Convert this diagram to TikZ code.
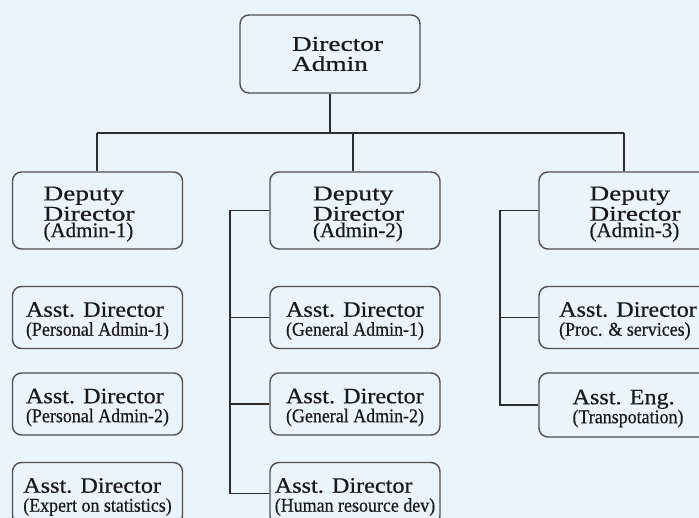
\documentclass[tikz,border=0pt]{standalone}
\usepackage{fontspec}
\setmainfont{Liberation Serif}[FakeBold=0.5]
\usepackage{graphicx}

\definecolor{paper}{RGB}{235,244,250}
\definecolor{frame}{RGB}{80,80,80}
\definecolor{wirec}{RGB}{45,45,45}
\definecolor{ink}{RGB}{25,25,25}

% baselines always follow \baselineskip
\lineskiplimit=-50pt

% horizontal padding that survives line ends
\newcommand\padw[1]{\rule{#1}{0pt}}
% title lines of the upper boxes (wide letters)
\newcommand\wideline[1]{\scalebox{1.3}[1]{#1}}
% two-line label of an assistant box
\newcommand\asstlabel[2]{\rule{0pt}{21.6pt}{\fontsize{22}{19}\selectfont\scalebox{1.1}[1]{#1}}\\{\fontsize{19.5}{19}\selectfont\scalebox{0.92}[1]{#2}}}
% three-line label of a deputy box; #2 left padding, #3 right padding
\newcommand\deplabel[3]{\rule{0pt}{21pt}\padw{#2}\wideline{Deputy}\\[3.8pt]\padw{#2}\wideline{Director}\padw{#3}\\\padw{#2}#1}

\tikzset{
  box/.style={draw=frame, line width=1.4pt, rounded corners=9pt, fill=paper,
    inner sep=0pt, align=left, text=ink},
  headbox/.style={box, minimum width=180pt, minimum height=78pt,
    font=\fontsize{21}{20}\selectfont},
  depbox/.style={box, minimum width=170pt, minimum height=77pt,
    font=\fontsize{21}{16.5}\selectfont},
  asstbox/.style={box, minimum width=170pt, minimum height=62pt,
    font=\fontsize{20}{19}\selectfont},
  wire/.style={draw=wirec, line width=1.2pt},
}

\begin{document}
\begin{tikzpicture}[x=1pt, y=-1pt]
  \fill[paper] (0,0) rectangle (699,518);
  \useasboundingbox (0,0) rectangle (699,518);

  % head of the department
  \node[headbox] (top) at (330,54) {\padw{15pt}\wideline{Director}\\\padw{15pt}\wideline{Admin}};

  % deputy directors
  \node[depbox] (dep1) at (97.5,210.5) {\deplabel{(Admin-1)}{0pt}{17pt}};
  \node[depbox] (dep2) at (355,210.5) {\deplabel{(Admin-2)}{7pt}{0pt}};
  \node[depbox, minimum width=178pt] (dep3) at (628,210.5) {\deplabel{(Admin-3)}{14pt}{0pt}};

  % assistant directors, first column
  \node[asstbox] (a11) at (97.5,317.5) {\asstlabel{Asst. Director}{(Personal Admin-1)}};
  \node[asstbox] (a12) at (97.5,404) {\asstlabel{Asst. Director}{(Personal Admin-2)}};
  \node[asstbox] (a13) at (97.5,493.5) {\asstlabel{Asst. Director}{(Expert on statistics)}};

  % assistant directors, second column
  \node[asstbox] (a21) at (355,317.5) {\asstlabel{Asst. Director}{(General Admin-1)}};
  \node[asstbox] (a22) at (355,404) {\asstlabel{Asst. Director}{(General Admin-2)}};
  \node[asstbox] (a23) at (355,493.5) {\asstlabel{Asst. Director}{(Human resource dev)}};

  % third column
  \node[asstbox, minimum width=178pt] (a31) at (628,317.5) {\asstlabel{Asst. Director}{(Proc. \& services)}};
  \node[asstbox, minimum width=178pt, minimum height=64pt] (a32) at (628,405) {\asstlabel{Asst. Eng.}{(Transpotation)}};

  % bus from the director to the deputies
  \coordinate (bus) at (0,133);
  \coordinate (drop1) at (97,133);
  \coordinate (drop2) at (353,133);
  \coordinate (drop3) at (624,133);
  \draw[wire] (top.south) -- (top.south |- bus);
  \draw[wire] (drop1) -- (drop3);
  \draw[wire] (drop1) -- (drop1 |- dep1.north);
  \draw[wire] (drop2) -- (drop2 |- dep2.north);
  \draw[wire] (drop3) -- (drop3 |- dep3.north);

  % bracket of the second column
  \coordinate (railB) at (230,0);
  \draw[wire] (dep2.west) -- (railB |- dep2.west) -- (railB |- a23.west) -- (a23.west);
  \draw[wire] (railB |- a21.west) -- (a21.west);
  \draw[wire] (railB |- a22.west) -- (a22.west);

  % bracket of the third column
  \coordinate (railC) at (500,0);
  \draw[wire] (dep3.west) -- (railC |- dep3.west) -- (railC |- a32.west) -- (a32.west);
  \draw[wire] (railC |- a31.west) -- (a31.west);
\end{tikzpicture}
\end{document}
